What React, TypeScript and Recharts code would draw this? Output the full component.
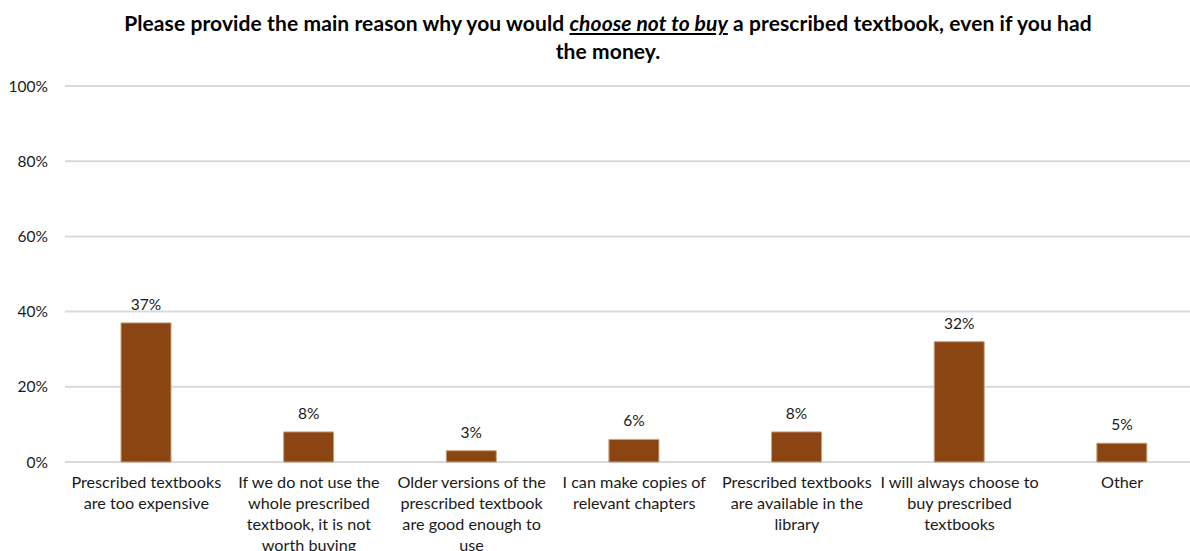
import { BarChart, Bar, XAxis, YAxis, CartesianGrid, LabelList } from "recharts";

const categories = [
  "Prescribed textbooks\nare too expensive",
  "If we do not use the\nwhole prescribed\ntextbook, it is not\nworth buying",
  "Older versions of the\nprescribed textbook\nare good enough to\nuse",
  "I can make copies of\nrelevant chapters",
  "Prescribed textbooks\nare available in the\nlibrary",
  "I will always choose to\nbuy prescribed\ntextbooks",
  "Other",
];
const shares = [37, 8, 3, 6, 8, 32, 5];
const yTicks = [0, 20, 40, 60, 80, 100];

const data = categories.map((name, i) => ({ name, value: shares[i] }));

const FONT = "Lato, 'Open Sans', sans-serif";

function CategoryTick(props: any) {
  const { x, y, payload } = props;
  const lines = String(payload.value).split("\n");
  return (
    <text x={x} y={y + 18} textAnchor="middle" fill="#1a1a1a" fontSize={16.2} fontFamily={FONT}>
      {lines.map((line, i) => (
        <tspan key={i} x={x} dy={i === 0 ? 0 : 21}>
          {line}
        </tspan>
      ))}
    </text>
  );
}

export default function App() {
  return (
    <div style={{ position: "absolute", left: 0, top: 0, width: 1190, height: 551, background: "#fff", overflow: "hidden" }}>
      <div
        style={{
          position: "absolute",
          left: 13,
          top: 9,
          width: 1190,
          textAlign: "center",
          fontFamily: FONT,
          fontWeight: 700,
          fontSize: 21,
          lineHeight: "28px",
          color: "#000",
          letterSpacing: 0.1,
        }}
      >
        Please provide the main reason why you would{" "}
        <span style={{ fontStyle: "italic", textDecoration: "underline" }}>choose not to buy</span> a prescribed
        textbook, even if you had
        <br />
        the money.
      </div>
      <BarChart width={1190} height={551} data={data} margin={{ top: 86, right: -13.5, bottom: 0, left: 0 }}>
        <CartesianGrid vertical={false} stroke="#d9d9d9" strokeWidth={2} />
        <XAxis
          dataKey="name"
          axisLine={false}
          tickLine={false}
          height={89}
          interval={0}
          tick={<CategoryTick />}
        />
        <YAxis
          domain={[0, 100]}
          ticks={yTicks}
          width={65}
          axisLine={false}
          tickLine={false}
          tickSize={0}
          tickMargin={17}
          tickFormatter={(v) => `${v}%`}
          tick={{ fill: "#1a1a1a", fontSize: 15.5, fontFamily: FONT }}
        />
        <Bar dataKey="value" fill="#8B4513" stroke="#c8a07c" strokeWidth={1} barSize={50} isAnimationActive={false}>
          <LabelList
            dataKey="value"
            position="top"
            offset={13}
            formatter={(v: any) => `${v}%`}
            fill="#1a1a1a"
            fontSize={15.5}
            fontFamily={FONT}
          />
        </Bar>
      </BarChart>
    </div>
  );
}
